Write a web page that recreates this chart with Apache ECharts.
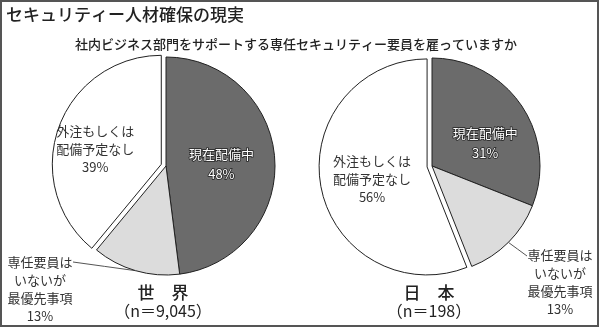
<!DOCTYPE html>
<html>
<head>
<meta charset="utf-8">
<script src="https://cdn.jsdelivr.net/npm/echarts@6/dist/echarts.min.js"></script>
<style>
  html, body { margin: 0; padding: 0; background: #fff; }
  #chart { width: 600px; height: 329px; }
</style>
</head>
<body>
<div id="chart"></div>
<script>
const FONT = '"Noto Sans CJK JP", "Noto Sans", sans-serif';

// Texts
const mainTitle = 'セキュリティー人材確保の現実';
const question = '社内ビジネス部門をサポートする専任セキュリティー要員を雇っていますか';
const regions = ['世　界', '日　本'];
const sampleSizes = ['（n＝9,045）', '（n＝198）'];

// Answer categories (clockwise from 12 o'clock)
const categories = ['現在配備中', '専任要員は\nいないが\n最優先事項', '外注もしくは\n配備予定なし'];

// Shares in percent
const worldValues = [48, 13, 39];
const japanValues = [31, 13, 56];

const sliceColors = ['#6b6b6b', '#dcdcdc', '#ffffff'];

const chart = echarts.init(document.getElementById('chart'), null, { renderer: 'canvas' });

function buildData(values) {
  return categories.map((name, i) => ({
    name: name,
    value: values[i],
    selected: i === 2,
    itemStyle: { color: sliceColors[i] },
    label: i === 0
      ? { color: '#fff', textBorderColor: '#222', textBorderWidth: 1.5, lineHeight: 20 }
      : (i === 1
        ? { position: 'outside', color: '#333', lineHeight: 18, overflow: 'none', width: 80 }
        : { color: '#333', lineHeight: 18 }),
    labelLine: { show: i === 1 }
  }));
}

const layouts = [
  { center: [166, 166], radius: 109 },
  { center: [432, 166], radius: 108 }
];

// Label tweaks per pie: [dark slice, outside label, white slice]
const labelTweaks = [
  [
    { dx: -2, dy: 2 },
    { x: 40, y: 253, attach: [73, 262] },
    { dx: -12, dy: 4 }
  ],
  [
    { dx: 6, dy: 9 },
    { x: 560, y: 246, attach: [527, 256] },
    { dx: 1, dy: 1 }
  ]
];

const seriesList = [worldValues, japanValues].map((values, s) => ({
  type: 'pie',
  center: layouts[s].center,
  radius: layouts[s].radius,
  startAngle: 90,
  clockwise: true,
  selectedMode: 'single',
  selectedOffset: 5,
  silent: true,
  animation: false,
  emphasis: { disabled: true },
  itemStyle: { borderColor: '#222', borderWidth: 1 },
  label: {
    show: true,
    position: 'inside',
    formatter: '{b}\n{c}%',
    fontFamily: FONT,
    fontSize: 13,
    align: 'center',
    edgeDistance: 0
  },
  labelLine: {
    show: false,
    length: 10,
    length2: 10,
    lineStyle: { color: '#555', width: 1 }
  },
  labelLayout: function (params) {
    const t = labelTweaks[s][params.dataIndex];
    if (params.dataIndex === 1) {
      const p0 = params.labelLinePoints ? params.labelLinePoints[0] : [0, 0];
      const p2 = t.attach;
      const p1 = [(p0[0] + p2[0]) / 2, (p0[1] + p2[1]) / 2];
      return {
        x: t.x,
        y: t.y,
        align: 'center',
        verticalAlign: 'top',
        labelLinePoints: [p0, p1, p2]
      };
    }
    return { dx: t.dx, dy: t.dy };
  },
  data: buildData(values)
}));

const textColor = '#222';
const graphics = [
  {
    type: 'rect',
    shape: { x: 1, y: 1, width: 597, height: 325 },
    style: { fill: 'none', stroke: '#555', lineWidth: 2 },
    silent: true
  },
  {
    type: 'text', x: 6, y: 15,
    style: { text: mainTitle, font: '500 17px ' + FONT, fill: textColor, textVerticalAlign: 'middle' }
  },
  {
    type: 'text', x: 296, y: 44,
    style: { text: question, font: '500 13px ' + FONT, fill: textColor, textAlign: 'center', textVerticalAlign: 'middle' }
  }
];
layouts.forEach((l, i) => {
  graphics.push({
    type: 'text', x: l.center[0] - 3, y: 293,
    style: { text: regions[i], font: '500 17px ' + FONT, fill: textColor, textAlign: 'center', textVerticalAlign: 'middle' }
  });
  graphics.push({
    type: 'text', x: l.center[0] - 3, y: 311,
    style: { text: sampleSizes[i], font: '16px ' + FONT, fill: textColor, textAlign: 'center', textVerticalAlign: 'middle' }
  });
});

chart.setOption({
  backgroundColor: '#ffffff',
  animation: false,
  textStyle: { fontFamily: FONT },
  series: seriesList,
  graphic: graphics
});
</script>
</body>
</html>
